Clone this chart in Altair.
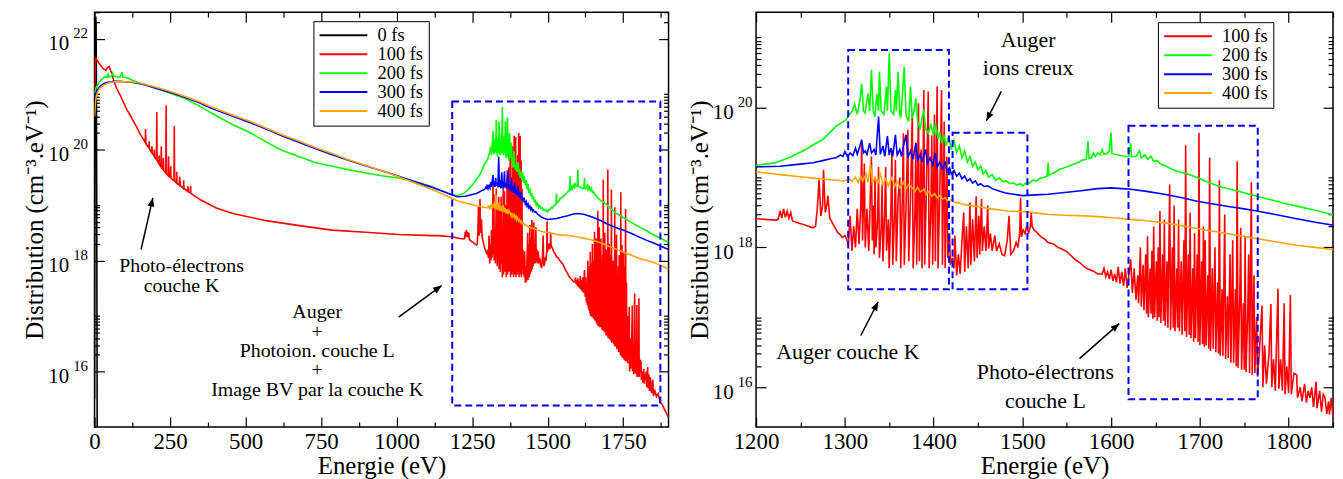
import altair as alt
import pandas as pd

FONT = "Liberation Serif"

# ---------------- data: (energy eV, log10 of distribution) ----------------
black_0fs = [(0, 15.5), (1, 19.0), (2, 21.3), (3, 22.1), (4, 22.4), (5, 22.3), (6, 21.5), (7, 19.5), (8, 17.0), (9, 14.5)]

red_100fs = [
    (0, 21.00), (2, 21.45), (4, 21.66), (7, 21.62), (12, 21.58), (20, 21.52), (30, 21.45), (38, 21.43), (44, 21.49),
    (48, 21.50), (52, 21.44), (58, 21.36), (63, 21.25), (72, 21.12), (85, 20.98), (96, 20.85), (107, 20.72),
    (118, 20.62), (129, 20.51), (140, 20.40), (151, 20.28), (160, 20.20),
    (165, 20.16), (168, 20.13), (169, 20.37), (170, 20.12), (175, 20.07), (180, 20.03), (181, 20.15), (182, 20.02),
    (185, 19.98), (189, 19.95), (190, 20.06), (191, 19.94), (195, 19.90), (197, 19.88), (198, 20.00), (199, 19.87),
    (205, 19.82), (206, 20.68), (207, 19.81), (213, 19.75), (214, 19.90), (215, 19.73), (220, 19.69), (221, 20.06),
    (222, 19.68), (227, 19.64), (228, 19.85), (229, 19.63), (236, 19.58), (237, 20.80), (238, 19.57), (244, 19.53),
    (245, 19.88), (246, 19.52), (251, 19.50), (252, 19.70), (253, 19.49), (260, 19.45), (263, 19.44), (264, 20.42),
    (265, 19.43), (271, 19.40), (272, 19.60), (273, 19.39), (280, 19.36), (282, 19.51), (284, 19.35), (294, 19.30),
    (295, 19.45), (296, 19.30), (307, 19.25), (309, 19.34), (311, 19.24), (317, 19.22), (318, 19.35), (319, 19.21),
    (325, 19.19), (349, 19.10), (403, 18.95), (458, 18.85), (568, 18.72), (678, 18.63), (787, 18.55), (897, 18.51),
    (1007, 18.47), (1117, 18.45), (1138, 18.45), (1182, 18.43),
    (1200, 18.41), (1210, 18.40), (1222, 18.39), (1225, 18.40), (1227, 18.52), (1229, 18.42), (1231, 18.55),
    (1233, 18.43), (1235, 18.52), (1237, 18.42), (1239, 18.50), (1241, 18.38), (1245, 18.36), (1255, 18.32),
    (1264, 18.28), (1267, 18.30), (1269, 18.55), (1271, 18.97), (1273, 18.45), (1275, 18.60), (1276, 19.11),
    (1278, 18.50), (1280, 18.62), (1281, 18.74), (1283, 18.42), (1286, 18.35), (1289, 18.28), (1292, 18.21),
    (1295, 18.18), (1297, 18.14), (1300, 18.17), (1302, 18.12),
    (1304, 18.05), (1306, 18.45), (1308, 17.95), (1310, 18.30), (1312, 18.00), (1314, 18.55), (1316, 18.05),
    (1318, 18.60), (1319, 19.49), (1320, 18.10), (1322, 19.20), (1323, 18.00), (1325, 18.55), (1327, 17.95),
    (1330, 19.30), (1331, 18.10), (1332, 18.60), (1333, 17.90), (1334, 19.00), (1335, 18.00), (1337, 18.40),
    (1338, 19.15), (1339, 17.85), (1341, 18.30), (1342, 18.90), (1343, 17.80), (1345, 18.55), (1346, 19.15),
    (1347, 17.95), (1349, 18.40), (1350, 17.70), (1352, 18.60), (1353, 19.40), (1354, 17.75), (1356, 18.50),
    (1357, 19.25), (1358, 17.80), (1360, 18.70), (1362, 19.00), (1363, 17.70), (1365, 18.80), (1366, 19.63),
    (1367, 17.75), (1369, 18.60), (1371, 19.68), (1372, 17.80), (1374, 18.70), (1376, 19.92), (1377, 17.70),
    (1379, 18.50), (1380, 19.50), (1381, 17.75), (1383, 20.06), (1384, 17.80), (1386, 19.40), (1387, 17.70),
    (1389, 20.25), (1390, 17.75), (1392, 18.90), (1394, 20.23), (1395, 17.70), (1397, 18.60), (1398, 19.60),
    (1399, 17.75), (1401, 19.90), (1402, 17.80), (1404, 20.30), (1405, 17.70), (1407, 18.80), (1409, 20.25),
    (1410, 17.75), (1412, 19.80), (1413, 17.70), (1415, 19.30), (1416, 17.85), (1418, 18.20), (1419, 17.75),
    (1421, 17.85), (1423, 17.70), (1424, 18.17), (1426, 17.60), (1428, 17.90), (1430, 17.62), (1432, 18.10),
    (1434, 18.50), (1435, 17.65), (1437, 18.30), (1439, 17.70), (1441, 18.64), (1442, 17.75), (1444, 18.40),
    (1446, 17.80), (1448, 18.73), (1449, 17.85), (1451, 18.45), (1452, 17.90), (1454, 18.69), (1455, 17.95),
    (1457, 18.30), (1459, 17.95), (1461, 18.60), (1462, 17.98), (1464, 18.20), (1466, 17.95), (1469, 18.17),
    (1471, 17.95), (1474, 18.05), (1477, 17.90), (1480, 17.88), (1483, 18.10), (1485, 18.45), (1487, 17.90),
    (1490, 17.95), (1493, 18.07), (1495, 18.00), (1497, 18.20), (1498, 18.71), (1499, 18.15), (1501, 18.25),
    (1503, 18.20), (1505, 18.31), (1507, 18.20), (1509, 18.30), (1510, 18.50), (1511, 18.30), (1513, 18.25),
    (1516, 18.22), (1521, 18.15), (1525, 18.12), (1529, 18.07), (1535, 18.05), (1540, 18.00), (1544, 17.98),
    (1550, 17.94), (1555, 17.88), (1559, 17.83), (1565, 17.78), (1570, 17.72), (1574, 17.69), (1580, 17.66),
    (1585, 17.62), (1590, 17.62), (1592, 17.70), (1594, 17.58), (1596, 17.65), (1598, 17.55), (1600, 17.68),
    (1602, 17.52), (1604, 17.62), (1606, 17.50), (1608, 17.72), (1610, 17.48), (1612, 17.65), (1614, 17.45),
    (1616, 17.70), (1618, 17.42), (1620, 17.60), (1622, 17.83),
    (1624, 17.35), (1626, 17.70), (1628, 17.25), (1630, 17.60), (1631, 17.20), (1633, 18.00), (1634, 17.15),
    (1636, 17.75), (1637, 17.10), (1639, 17.90), (1640, 17.05), (1641, 18.16), (1642, 17.00), (1644, 17.70),
    (1645, 17.05), (1646, 17.95), (1647, 16.98), (1648, 18.30), (1649, 17.00), (1651, 17.80), (1652, 16.95),
    (1653, 18.00), (1654, 17.00), (1655, 18.52), (1656, 16.92), (1658, 17.90), (1659, 16.95), (1660, 18.40),
    (1661, 16.88), (1663, 17.80), (1664, 16.85), (1666, 18.90), (1667, 16.82), (1669, 18.00), (1670, 16.85),
    (1671, 18.60), (1672, 16.80), (1674, 17.70), (1675, 16.85), (1676, 18.40), (1677, 16.80), (1679, 17.80),
    (1680, 16.75), (1682, 18.10), (1683, 16.80), (1684, 19.46), (1685, 16.72), (1687, 17.90), (1688, 16.75),
    (1689, 18.50), (1690, 16.70), (1692, 17.70), (1693, 16.65), (1694, 18.20), (1695, 16.70), (1697, 17.90),
    (1698, 16.65), (1699, 19.64), (1700, 16.60), (1702, 17.80), (1703, 16.62), (1704, 18.30), (1705, 16.58),
    (1706, 18.10), (1707, 16.60), (1709, 17.60), (1710, 16.55), (1711, 19.28), (1712, 16.52), (1714, 17.70),
    (1715, 16.55), (1717, 18.00), (1718, 16.50), (1720, 17.50), (1721, 16.48), (1722, 18.96), (1723, 16.45),
    (1725, 17.40), (1726, 16.45), (1728, 18.47), (1729, 16.40), (1731, 17.30), (1732, 16.42), (1734, 17.90),
    (1735, 16.35), (1737, 18.10), (1738, 16.35), (1740, 17.40), (1741, 16.30), (1742, 19.23), (1743, 16.28),
    (1745, 17.30), (1746, 18.28), (1747, 16.25), (1749, 17.20), (1750, 16.25), (1751, 18.15), (1752, 16.22),
    (1754, 17.10), (1755, 17.90), (1756, 16.20), (1758, 18.93), (1759, 16.18), (1761, 17.60), (1762, 16.20),
    (1764, 17.00), (1765, 16.15),
    (1767, 16.50), (1770, 17.17), (1771, 16.00), (1773, 16.60), (1775, 16.05), (1778, 16.50), (1780, 17.19),
    (1781, 16.00), (1783, 16.40), (1785, 15.95), (1788, 17.41), (1789, 15.98), (1791, 16.40), (1793, 15.95),
    (1795, 17.20), (1796, 15.90), (1798, 16.30), (1800, 15.92), (1802, 17.32), (1803, 15.90), (1806, 16.20),
    (1809, 16.18), (1810, 15.85), (1813, 16.00), (1815, 15.80), (1818, 16.05), (1820, 15.78), (1822, 15.95),
    (1824, 15.85), (1826, 16.00), (1828, 15.72), (1831, 16.08), (1832, 15.70), (1835, 15.95), (1837, 15.65),
    (1839, 15.90), (1841, 15.85), (1843, 15.62), (1845, 15.80), (1846, 15.61), (1848, 15.85), (1850, 15.56),
    (1855, 15.65), (1860, 15.55), (1866, 15.60), (1872, 15.45), (1880, 15.40), (1888, 15.30), (1896, 15.22),
    (1900, 15.18),
]

green_200fs = [
    (0, 21.01), (5, 21.12), (9, 21.16), (15, 21.22), (20, 21.24), (25, 21.28), (35, 21.31), (42, 21.30),
    (45, 21.36), (48, 21.31), (55, 21.32), (60, 21.38), (63, 21.32), (70, 21.32), (78, 21.31), (85, 21.31),
    (91, 21.40), (93, 21.31), (105, 21.30), (118, 21.27), (130, 21.24), (140, 21.22), (151, 21.19), (162, 21.17),
    (200, 21.11), (239, 21.04), (300, 20.92), (349, 20.78), (400, 20.62), (458, 20.45), (514, 20.31),
    (568, 20.14), (620, 19.99), (678, 19.87), (730, 19.77), (787, 19.70), (840, 19.64), (897, 19.58),
    (950, 19.53), (1007, 19.49), (1060, 19.43), (1117, 19.33), (1138, 19.28), (1172, 19.21), (1190, 19.18),
    (1200, 19.17), (1210, 19.19), (1222, 19.21), (1230, 19.25), (1237, 19.28), (1245, 19.33), (1256, 19.40),
    (1265, 19.47), (1275, 19.54), (1283, 19.64), (1290, 19.73), (1296, 19.78), (1301, 19.82), (1305, 19.90),
    (1308, 19.94), (1311, 20.05), (1314, 19.90), (1317, 20.10), (1319, 20.34), (1321, 19.95), (1323, 19.92),
    (1326, 20.20), (1328, 19.95), (1330, 20.54), (1332, 19.95), (1334, 19.87), (1336, 20.20), (1338, 19.95),
    (1339, 20.51), (1341, 19.95), (1344, 19.90), (1347, 20.30), (1348, 19.95), (1350, 20.77), (1352, 19.95),
    (1355, 19.90), (1357, 20.25), (1358, 19.95), (1360, 20.51), (1362, 19.90), (1363, 19.85), (1365, 20.20),
    (1367, 20.58), (1369, 19.88), (1372, 19.80), (1374, 20.30), (1376, 19.85), (1378, 19.95), (1380, 20.13),
    (1382, 19.80), (1385, 19.68), (1387, 19.85), (1389, 19.97), (1391, 19.70), (1394, 19.63), (1397, 19.75),
    (1400, 19.60), (1402, 19.78), (1405, 19.55), (1407, 19.65), (1409, 19.49), (1412, 19.60), (1414, 19.45),
    (1417, 19.59), (1420, 19.40), (1423, 19.52), (1426, 19.36), (1429, 19.45), (1432, 19.28), (1435, 19.38),
    (1438, 19.22), (1441, 19.30), (1444, 19.16), (1447, 19.22), (1450, 19.11), (1453, 19.16), (1456, 19.05),
    (1459, 19.10), (1462, 19.00), (1466, 19.04), (1470, 18.96), (1474, 18.99), (1478, 18.94), (1482, 18.95),
    (1486, 18.91), (1490, 18.92), (1494, 18.89), (1498, 18.91), (1500, 18.88), (1504, 18.92), (1508, 18.92),
    (1512, 18.96), (1516, 18.95), (1520, 18.99), (1524, 19.00), (1528, 19.02), (1529, 19.21), (1530, 19.03),
    (1534, 19.06), (1538, 19.08), (1542, 19.12), (1546, 19.13), (1548, 19.14), (1552, 19.16), (1556, 19.18),
    (1560, 19.20), (1564, 19.22), (1568, 19.25), (1572, 19.26), (1574, 19.52), (1575, 19.27), (1578, 19.28),
    (1580, 19.35), (1582, 19.30), (1585, 19.35), (1588, 19.32), (1590, 19.40), (1592, 19.33), (1595, 19.34),
    (1598, 19.38), (1600, 19.64), (1601, 19.34), (1604, 19.33), (1608, 19.32), (1612, 19.31), (1616, 19.30),
    (1620, 19.30), (1622, 19.49), (1623, 19.30), (1628, 19.30), (1632, 19.38), (1634, 19.28), (1638, 19.32),
    (1641, 19.26), (1645, 19.30), (1648, 19.23), (1652, 19.24), (1656, 19.19), (1660, 19.17), (1668, 19.12),
    (1678, 19.07), (1684, 19.06), (1690, 19.03), (1697, 19.00), (1706, 18.95), (1716, 18.90), (1725, 18.86),
    (1734, 18.83), (1750, 18.78), (1764, 18.73), (1780, 18.68), (1795, 18.63), (1809, 18.59), (1830, 18.53),
    (1849, 18.47), (1875, 18.40), (1900, 18.33),
]

blue_300fs = [
    (0, 20.92), (5, 21.02), (9, 21.07), (15, 21.12), (20, 21.15), (30, 21.19), (40, 21.21), (52, 21.22),
    (63, 21.23), (83, 21.23), (107, 21.22), (126, 21.21), (151, 21.19), (162, 21.18), (200, 21.11),
    (239, 21.05), (261, 21.01), (300, 20.94), (349, 20.84), (371, 20.78), (400, 20.72), (458, 20.60),
    (514, 20.49), (568, 20.37), (620, 20.25), (678, 20.13), (730, 20.02), (787, 19.91), (840, 19.81),
    (897, 19.71), (950, 19.62), (1007, 19.52), (1060, 19.42), (1117, 19.32), (1172, 19.21),
    (1200, 19.15), (1227, 19.16), (1250, 19.19), (1264, 19.21), (1275, 19.24), (1285, 19.27), (1290, 19.28),
    (1295, 19.32), (1298, 19.30), (1300, 19.37), (1303, 19.30), (1306, 19.35), (1309, 19.31), (1312, 19.42),
    (1314, 19.33), (1317, 19.45), (1319, 19.54), (1321, 19.35), (1323, 19.38), (1325, 19.33), (1328, 19.49),
    (1330, 19.35), (1333, 19.40), (1335, 19.32), (1338, 19.87), (1340, 19.33), (1343, 19.45), (1345, 19.30),
    (1348, 19.59), (1350, 19.32), (1352, 19.42), (1354, 19.30), (1357, 19.61), (1359, 19.32), (1362, 19.40),
    (1364, 19.30), (1366, 19.45), (1369, 19.61), (1371, 19.28), (1374, 19.38), (1377, 19.26), (1380, 19.49),
    (1382, 19.25), (1385, 19.33), (1387, 19.22), (1391, 19.40), (1393, 19.20), (1396, 19.28), (1399, 19.18),
    (1402, 19.35), (1404, 19.15), (1407, 19.22), (1410, 19.12), (1413, 19.23), (1415, 19.08), (1418, 19.14),
    (1420, 19.05), (1423, 19.10), (1426, 19.02), (1429, 19.06), (1432, 18.98), (1435, 19.02), (1438, 18.95),
    (1441, 18.98), (1444, 18.92), (1447, 18.95), (1450, 18.89), (1453, 18.91), (1457, 18.87), (1461, 18.88),
    (1466, 18.84), (1473, 18.81), (1480, 18.78), (1490, 18.76), (1500, 18.74), (1515, 18.75), (1529, 18.76),
    (1545, 18.78), (1566, 18.81), (1585, 18.84), (1600, 18.85), (1612, 18.84), (1622, 18.83), (1640, 18.80),
    (1660, 18.76), (1680, 18.71), (1697, 18.66), (1715, 18.62), (1734, 18.58), (1750, 18.55), (1764, 18.52),
    (1785, 18.47), (1809, 18.41), (1830, 18.36), (1849, 18.32), (1875, 18.26), (1900, 18.20),
]

orange_400fs = [
    (0, 20.60), (3, 20.85), (6, 20.97), (10, 21.03), (15, 21.09), (20, 21.12), (30, 21.16), (40, 21.19),
    (52, 21.21), (63, 21.22), (83, 21.23), (107, 21.22), (126, 21.22), (151, 21.20), (200, 21.13),
    (239, 21.07), (300, 20.96), (349, 20.86), (400, 20.74), (458, 20.62), (514, 20.51), (568, 20.39),
    (620, 20.27), (678, 20.15), (730, 20.04), (787, 19.93), (840, 19.82), (897, 19.72), (950, 19.62),
    (1007, 19.51), (1060, 19.40), (1117, 19.28), (1172, 19.15),
    (1200, 19.08), (1227, 19.04), (1250, 19.01), (1264, 18.99), (1280, 18.97), (1300, 18.95), (1305, 18.98),
    (1308, 18.94), (1312, 19.00), (1315, 18.93), (1318, 19.02), (1320, 18.95), (1324, 19.05), (1326, 18.93),
    (1329, 19.19), (1331, 18.92), (1334, 19.00), (1337, 18.91), (1340, 19.05), (1343, 18.90), (1346, 18.98),
    (1349, 18.88), (1353, 19.00), (1356, 18.87), (1359, 18.95), (1362, 18.85), (1366, 18.93), (1369, 18.84),
    (1372, 18.90), (1376, 18.85), (1379, 18.80), (1382, 18.86), (1385, 18.79), (1389, 18.83), (1392, 18.76),
    (1395, 18.80), (1398, 18.73), (1401, 18.77), (1404, 18.71), (1407, 18.74), (1410, 18.69), (1413, 18.71),
    (1416, 18.66), (1420, 18.68), (1424, 18.64), (1428, 18.64), (1432, 18.62), (1440, 18.60), (1450, 18.58),
    (1465, 18.55), (1484, 18.52), (1500, 18.51), (1510, 18.50), (1530, 18.47), (1548, 18.46), (1570, 18.45),
    (1585, 18.44), (1605, 18.42), (1622, 18.40), (1640, 18.38), (1660, 18.35), (1680, 18.31), (1697, 18.27),
    (1715, 18.23), (1734, 18.19), (1752, 18.15), (1772, 18.11), (1790, 18.07), (1809, 18.03), (1830, 18.00),
    (1849, 17.97), (1875, 17.91), (1900, 17.85),
]

series_names = ["0 fs", "100 fs", "200 fs", "300 fs", "400 fs"]
series_colors = ["#000000", "#ff0000", "#00ff00", "#0000ff", "#ffa500"]

# axes
left_x_labels = [0, 250, 500, 750, 1000, 1250, 1500, 1750]
right_x_labels = [1200, 1300, 1400, 1500, 1600, 1700, 1800]
left_y_labels = [1e16, 1e18, 1e20, 1e22]
right_y_labels = [1e16, 1e18, 1e20]
left_x_ticks = list(range(0, 1901, 125))
right_x_ticks = list(range(1200, 1851, 50))
left_y_ticks = [k * 10.0 ** n for n in (16, 18, 20, 22) for k in range(1, 11)]
right_y_ticks = [k * 10.0 ** n for n in (16, 18, 20) for k in range(1, 11)]

# annotations (energy, log10 value)
left_box_E1, left_box_E2, left_box_lg1, left_box_lg2 = [1184], [1873], [15.39], [20.87]
right_box_E1 = [1303.8, 1421.4, 1619.6]
right_box_E2 = [1417.3, 1505.7, 1765.2]
right_box_lg1 = [17.40, 17.40, 15.83]
right_box_lg2 = [20.82, 19.64, 19.74]

left_text = ["Photo-électrons", "couche K", "Auger", "+", "Photoion. couche L", "+", "Image BV par la couche K"]
left_text_E = [288, 288, 737, 737, 737, 737, 737]
left_text_lg = [17.90, 17.54, 17.07, 16.72, 16.37, 16.02, 15.67]
right_text = ["Auger", "ions creux", "Auger couche K", "Photo-électrons", "couche L"]
right_text_E = [1506.5, 1506.5, 1303.5, 1526, 1526]
right_text_lg = [20.96, 20.56, 16.51, 16.22, 15.80]

left_arrow_E1 = [154, 1006.6]
left_arrow_lg1 = [18.20, 16.98]
left_arrow_E2 = [193, 1149]
left_arrow_lg2 = [19.13, 17.55]
left_arrow_ang = [13, 54]
right_arrow_E1 = [1476.3, 1318, 1564.4]
right_arrow_lg1 = [20.23, 16.74, 16.41]
right_arrow_E2 = [1459.5, 1337.5, 1609.2]
right_arrow_lg2 = [19.81, 17.22, 16.91]
right_arrow_ang = [207, 27, 49]

# ---------------- build tables ----------------
rows = []
for name, pts in zip(series_names, [black_0fs, red_100fs, green_200fs, blue_300fs, orange_400fs]):
    for e, lg in pts:
        rows.append({"E": e, "lg": lg, "series": name})
curves = pd.DataFrame(rows)


def tick_axis(orient, offset, values, major_test):
    return alt.Axis(orient=orient, offset=offset, values=values, labels=False, domain=False, grid=False,
                    title=None, ticks=True, tickColor="black", tickWidth=1.2,
                    tickSize={"condition": {"test": major_test, "value": 10}, "value": 5})


YMAJ = ("abs(log(datum.value)/LN10 - round(log(datum.value)/LN10)) < 0.001 && "
        "round(log(datum.value)/LN10) % 2 == 0")


def panel(df, names, colors, xdom, ydom, xlab, ylab, xticks, yticks, xmajor, W, H,
          box_df, text_df, arrow_df, legx, legy, pad10, padexp, text_size):
    xs = alt.Scale(domain=xdom, nice=False, zero=False)
    ys = alt.Scale(type="log", domain=ydom, nice=False)
    xmaj = f"datum.value % {xmajor} == 0"

    lines = alt.Chart(df).transform_calculate(v="pow(10, datum.lg)").mark_line(
        clip=True, strokeWidth=1.6
    ).encode(
        x=alt.X("E:Q", scale=xs, axis=alt.Axis(
            orient="bottom", values=xlab, format="d", labelFlush=False, ticks=False, tickSize=0,
            domain=False, grid=False, labelFontSize=23, labelPadding=4, labelColor="black",
            labelFont=FONT, titleFont=FONT,
            title="Energie (eV)", titleFontSize=25, titlePadding=0, titleFontWeight="normal",
            titleColor="black")),
        y=alt.Y("v:Q", scale=ys, axis=alt.Axis(
            orient="left", values=ylab, labelExpr="'10'", labelFlush=False, ticks=False, tickSize=0,
            domain=False, grid=False, labelFontSize=21, labelPadding=pad10, labelOffset=5,
            labelFont=FONT, titleFont=FONT,
            labelColor="black", title="Distribution (cm⁻³.eV⁻¹)", titleFontSize=25, titlePadding=0,
            titleFontWeight="normal", titleColor="black")),
        color=alt.Color("series:N", scale=alt.Scale(domain=names, range=colors), legend=alt.Legend(
            title=None, orient="none", legendX=legx, legendY=legy, symbolType="M-1,0H5", symbolSize=256,
            symbolStrokeWidth=2, labelFontSize=18.5, labelOffset=41, labelFont=FONT, labelColor="black",
            padding=5, strokeColor="black", fillColor="white", rowPadding=0)),
    )

    boxes = alt.Chart(box_df).transform_calculate(
        v1="pow(10, datum.lg1)", v2="pow(10, datum.lg2)"
    ).mark_rect(fillOpacity=0, stroke="#0000ff", strokeWidth=2, strokeDash=[7, 4]).encode(
        x=alt.X("E1:Q", scale=xs, axis=tick_axis("top", -H, xticks, xmaj)),
        x2="E2:Q",
        y=alt.Y("v1:Q", scale=ys, axis=alt.Axis(
            orient="left", values=ylab, labelExpr="format(round(log(datum.value)/LN10), 'd')",
            labelFlush=False, ticks=False, tickSize=0, domain=False, grid=False, labelFontSize=15,
            labelFont=FONT,
            labelPadding=padexp, labelOffset=-6, labelColor="black", title=None)),
        y2="v2:Q",
    )

    texts = alt.Chart(text_df).transform_calculate(v="pow(10, datum.lg)").mark_text(
        font=FONT, fontSize=text_size, align="center", baseline="middle", color="black"
    ).encode(
        x=alt.X("E:Q", scale=xs, axis=tick_axis("bottom", -H, xticks, xmaj)),
        y=alt.Y("v:Q", scale=ys, axis=tick_axis("right", -W, yticks, YMAJ)),
        text="label:N",
    )

    arrows = alt.Chart(arrow_df).transform_calculate(
        v1="pow(10, datum.lg1)", v2="pow(10, datum.lg2)"
    ).mark_rule(color="black", strokeWidth=1.5).encode(
        x=alt.X("E1:Q", scale=xs, axis=None),
        y=alt.Y("v1:Q", scale=ys, axis=tick_axis("left", -W, yticks, YMAJ)),
        x2="E2:Q", y2="v2:Q",
    )

    heads = alt.Chart(arrow_df).transform_calculate(v2="pow(10, datum.lg2)").mark_point(
        shape="M0,0L-0.4,1L0.4,1Z", filled=True, size=300, color="black", opacity=1
    ).encode(
        x=alt.X("E2:Q", scale=xs, axis=None),
        y=alt.Y("v2:Q", scale=ys, axis=None),
        angle=alt.Angle("ang:Q", scale=None),
    )

    return alt.layer(lines, boxes, texts, arrows, heads).resolve_axis(
        x="independent", y="independent"
    ).properties(width=W, height=H)


left_df = curves
right_df = curves[curves["series"] != "0 fs"]

left = panel(
    left_df, series_names, series_colors, [0, 1900], [1e15, 3e22], left_x_labels, left_y_labels,
    left_x_ticks, left_y_ticks, 250, 577, 417,
    pd.DataFrame({"E1": left_box_E1, "E2": left_box_E2, "lg1": left_box_lg1, "lg2": left_box_lg2}),
    pd.DataFrame({"label": left_text, "E": left_text_E, "lg": left_text_lg}),
    pd.DataFrame({"E1": left_arrow_E1, "lg1": left_arrow_lg1, "E2": left_arrow_E2, "lg2": left_arrow_lg2,
                  "ang": left_arrow_ang}),
    220, 9, 26, 7, 20,
)

right = panel(
    right_df, series_names[1:], series_colors[1:], [1200, 1850], [2.7e15, 2.3e21], right_x_labels,
    right_y_labels, right_x_ticks, right_y_ticks, 100, 580, 417,
    pd.DataFrame({"E1": right_box_E1, "E2": right_box_E2, "lg1": right_box_lg1, "lg2": right_box_lg2}),
    pd.DataFrame({"label": right_text, "E": right_text_E, "lg": right_text_lg}),
    pd.DataFrame({"E1": right_arrow_E1, "lg1": right_arrow_lg1, "E2": right_arrow_E2, "lg2": right_arrow_lg2,
                  "ang": right_arrow_ang}),
    404, 10, 23, 4, 22,
)

chart = alt.hconcat(left, right, spacing=16).resolve_scale(
    x="independent", y="independent", color="independent"
).resolve_legend(color="independent").properties(
    padding={"left": 14, "top": 1, "right": 0, "bottom": 0}
).configure(font=FONT).configure_view(stroke="black", strokeWidth=1.5)

chart.save("out.html", embed_options={"renderer": "svg", "actions": False})
